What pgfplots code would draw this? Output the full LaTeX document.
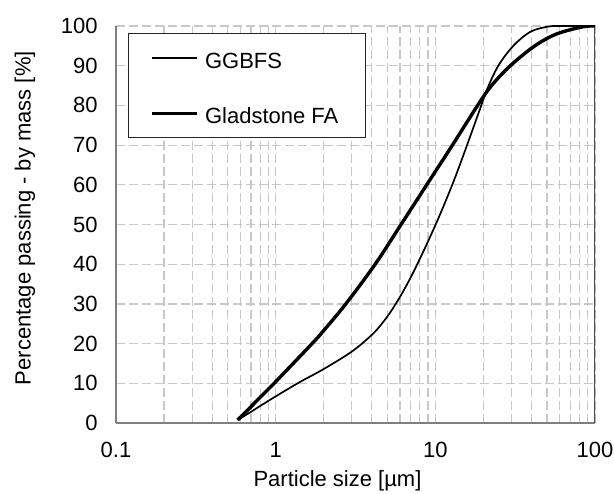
\documentclass[border=0pt]{standalone}
\usepackage{fontspec}
\setmainfont{Liberation Sans}
\usepackage{pgfplots}
\pgfplotsset{compat=1.18}
\usetikzlibrary{calc}

\begin{document}
\fontsize{11}{13.2}\selectfont
\begin{tikzpicture}
\begin{axis}[
    scale only axis,
    width=239.5pt, height=198.5pt,
    xmode=log,
    xmin=0.1, xmax=100,
    ymin=0, ymax=100,
    xtick={0.1,1,10,100},
    xticklabels={0.1,1,10,100},
    minor xtick={0.2,0.3,0.4,0.5,0.6,0.7,0.8,0.9,2,3,4,5,6,7,8,9,20,30,40,50,60,70,80,90},
    ytick={0,10,...,100},
    /pgf/number format/assume math mode=true,
    grid=both,
    major grid style={black!22, dash pattern=on 4.5pt off 2pt, line width=0.6pt},
    minor grid style={black!22, dash pattern=on 4.5pt off 2pt, line width=0.6pt},
    tick style={draw=none},
    axis x line*=bottom,
    axis y line*=left,
    axis line style={-, draw=black!50, line width=0.7pt},
    xticklabel style={yshift=-5.8pt},
    yticklabel style={xshift=-5.3pt},
    every axis x label/.style={at={(axis description cs:0.4624,-0.146)}, anchor=center},
    every axis y label/.style={at={(axis description cs:-0.19,0.516)}, rotate=90, anchor=center},
    xlabel={Particle size [µm]},
    ylabel={Percentage passing - by mass [\%]},
    legend image code/.code={\draw[#1] (0pt,0pt) -- (22.5pt,0pt);},
    legend style={at={(axis description cs:0.0244,0.9816)}, anchor=north west,
        draw=black!85, fill=white, inner xsep=11.3pt, inner ysep=3.5pt,
        nodes={inner sep=2pt, text height=11.7pt, text depth=0.15em},
        /tikz/row sep=10.3pt, /tikz/column sep=1pt},
    legend cell align=left,
]
\coordinate (SW) at (rel axis cs:0,0);
\coordinate (NE) at (rel axis cs:1,1);
\draw[black!70, line width=0.7pt] (rel axis cs:1,0) -- (rel axis cs:1,1);

% GGBFS
\addplot[black, line width=0.85pt, smooth, tension=0.55] coordinates {
    (0.578,0.76) (0.7,2.8) (0.8,4.3) (1,6.7) (1.4,10.2) (2,13.6) (3,18)
    (4,22.2) (4.6,24.9) (5.33,28.4) (6.4,33.7) (7.71,40) (10.1,50.2) (12.85,60.3)
    (15.8,70) (19.4,80) (21,83.9) (24.8,90) (30.8,95) (39.2,98.5) (50,99.8)
    (60,100) (100,100)
};
\addlegendentry{GGBFS}

% Gladstone FA
\addplot[black, line width=1.7pt, smooth, tension=0.55] coordinates {
    (0.578,0.76) (0.7,4.1) (0.8,6.5) (1,10.4) (1.69,20) (2,23.3) (2.75,30)
    (4.2,40) (6.1,50) (8.83,60) (12.8,70) (18.4,80) (22.5,85) (29.5,90)
    (42,95) (57.5,98) (84,99.8) (100,100)
};
\addlegendentry{Gladstone FA}
\end{axis}
\pgfresetboundingbox
\path[use as bounding box] ($(SW)+(-58pt,-35pt)$) rectangle ($(NE)+(9.5pt,13pt)$);
\end{tikzpicture}
\end{document}
